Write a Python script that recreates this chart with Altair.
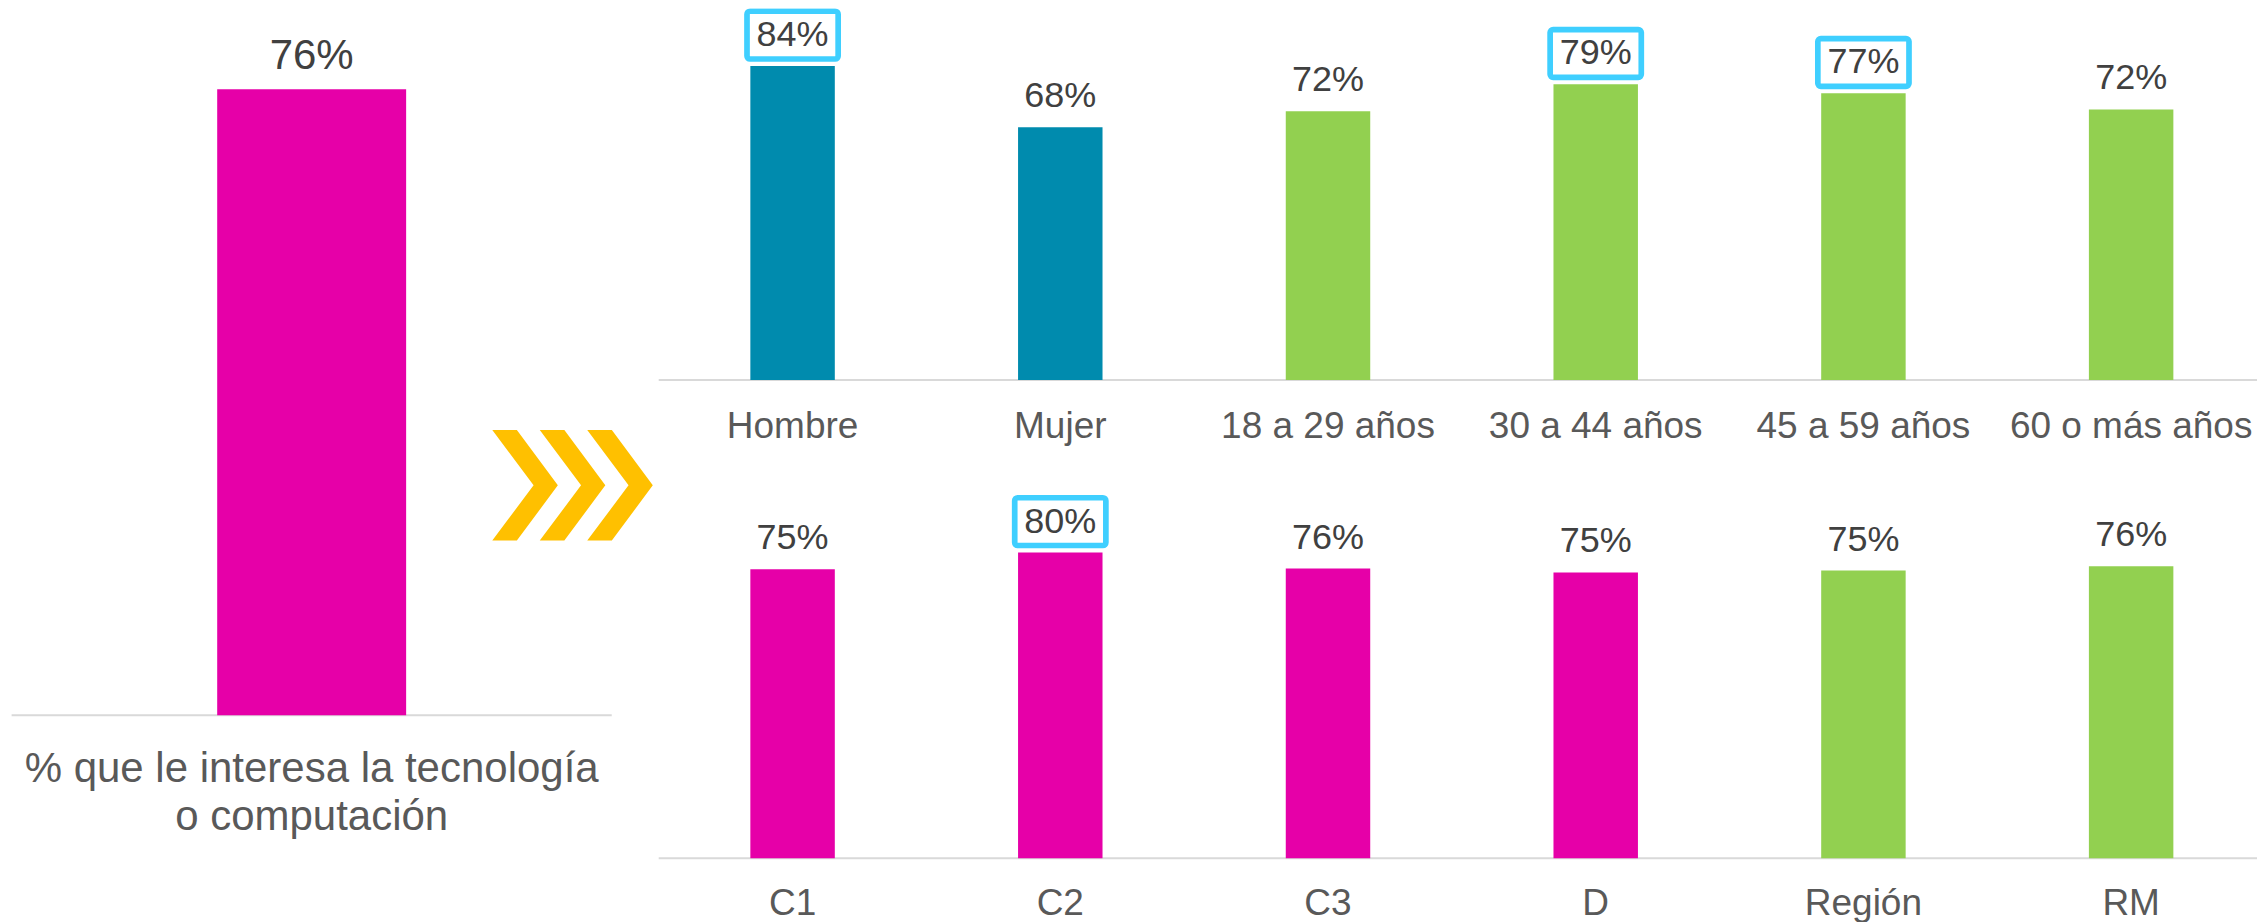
import altair as alt
import pandas as pd

# ---------------- data ----------------
total_categoria = ["% que le interesa la tecnología\no computación"]
total_valor = [76.0]
total_grupo = ["Total"]

sup_categorias = ["Hombre", "Mujer", "18 a 29 años", "30 a 44 años", "45 a 59 años", "60 o más años"]
sup_valores = [84.0, 67.6, 71.9, 79.1, 76.7, 72.4]
sup_grupos = ["Sexo", "Sexo", "Edad", "Edad", "Edad", "Edad"]
sup_destacado = [True, False, False, True, True, False]

inf_categorias = ["C1", "C2", "C3", "D", "Región", "RM"]
inf_valores = [75.4, 79.8, 75.6, 74.6, 75.1, 76.2]
inf_grupos = ["NSE", "NSE", "NSE", "NSE", "Zona", "Zona"]
inf_destacado = [False, True, False, False, False, False]

grupos = ["Total", "Sexo", "Edad", "NSE", "Zona"]
colores = ["#E600A8", "#008BAE", "#92D050", "#E600A8", "#92D050"]

FONT = "Liberation Sans"
VAL_COLOR = "#404040"
CAT_COLOR = "#595959"
BOX_COLOR = "#3FCFFF"
LINE_COLOR = "#D9D9D9"

CHEVRON_SHAPE = (
    "M-0.859,-1L-0.414,-1L0.327,0L-0.414,1L-0.859,1L-0.112,0Z "
    "M0,-1L0.445,-1L1.186,0L0.445,1L0,1L0.747,0Z "
    "M0.859,-1L1.304,-1L2.045,0L1.304,1L0.859,1L1.606,0Z"
)

color_enc = alt.Color("grupo:N", scale=alt.Scale(domain=grupos, range=colores), legend=None)


def panel(cats, vals, grps, dest, width, height, x_range, pad_in, pad_out, y_range,
          val_size, val_dy, cat_size, cat_dy, line_x, box=True, line_height=None,
          extra=None):
    df = pd.DataFrame({"categoria": cats, "valor": vals, "grupo": grps,
                       "destacado": [1 if d else 0 for d in dest]})
    base = alt.Chart(df).transform_calculate(
        etiqueta="format(datum.valor, '.0f') + '%'",
        cero="0",
        linea1="split(datum.categoria, '\\n')[0]",
        linea2="length(split(datum.categoria, '\\n')) > 1 ? split(datum.categoria, '\\n')[1] : ''",
    )
    x = alt.X("categoria:N", sort=None,
              scale=alt.Scale(range=x_range, paddingInner=pad_in, paddingOuter=pad_out),
              axis=None)
    y_scale = alt.Scale(domain=[0, 100], range=y_range, nice=False, zero=True)
    y = alt.Y("valor:Q", scale=y_scale, axis=None)
    y0 = alt.Y("cero:Q", scale=y_scale, axis=None)

    rule = alt.Chart(pd.DataFrame({"cero": [0]})).mark_rule(
        color=LINE_COLOR, strokeWidth=2
    ).encode(x=alt.value(line_x[0]), x2=alt.value(line_x[1]), y=y0)
    bars = base.mark_bar().encode(x=x, y=y, color=color_enc)
    layers = [rule, bars]
    if box:
        boxes = base.transform_filter("datum.destacado == 1").mark_bar(
            width=91.2, fill="white", stroke=BOX_COLOR, strokeWidth=5.7,
            cornerRadius=3, yOffset=-54.8, y2Offset=-7, clip=True
        ).encode(x=x, y=y, y2="valor:Q")
        layers.append(boxes)
    labels = base.mark_text(
        dy=val_dy, fontSize=val_size, font=FONT, color=VAL_COLOR,
        align="center", baseline="alphabetic"
    ).encode(x=x, y=y, text="etiqueta:N")
    layers.append(labels)
    cat1 = base.mark_text(dy=cat_dy, fontSize=cat_size, font=FONT, color=CAT_COLOR,
                          align="center", baseline="alphabetic"
                          ).encode(x=x, y=y0, text="linea1:N")
    layers.append(cat1)
    if line_height:
        cat2 = base.mark_text(dy=cat_dy + line_height, fontSize=cat_size, font=FONT,
                              color=CAT_COLOR, align="center", baseline="alphabetic"
                              ).encode(x=x, y=y0, text="linea2:N")
        layers.append(cat2)
    if extra is not None:
        layers.append(extra)
    return alt.layer(*layers).properties(width=width, height=height)


chevrones = alt.Chart(pd.DataFrame({"simbolo": ["chevron"]})).mark_point(
    shape=CHEVRON_SHAPE, size=12232, filled=True, color="#FFC000", opacity=1, strokeWidth=0
).encode(x=alt.value(532), y=alt.value(477.3))

izq = panel(total_categoria, total_valor, total_grupo, [False],
            width=643, height=907,
            x_range=[3.6, 604], pad_in=0.5211, pad_out=0.5211,
            y_range=[707.3, 707.3 - 824],
            val_size=42, val_dy=-20, cat_size=42, cat_dy=66.4,
            line_x=[3.6, 604], box=False, line_height=48, extra=chevrones)

sup = panel(sup_categorias, sup_valores, sup_grupos, sup_destacado,
            width=1607, height=440,
            x_range=[8, 1615], pad_in=0.6845, pad_out=0.3423,
            y_range=[372, -2],
            val_size=36, val_dy=-20, cat_size=37, cat_dy=58,
            line_x=[8, 1607])

inf = panel(inf_categorias, inf_valores, inf_grupos, inf_destacado,
            width=1607, height=467,
            x_range=[8, 1615], pad_in=0.6845, pad_out=0.3423,
            y_range=[410.5, 410.5 - 383.4],
            val_size=36, val_dy=-20, cat_size=37, cat_dy=56.5,
            line_x=[8, 1607])

chart = alt.hconcat(
    izq, alt.vconcat(sup, inf, spacing=0), spacing=0
).properties(
    bounds="flush", padding=0
).configure_view(stroke=None)

chart.save("out.html", embed_options={"renderer": "svg", "actions": False})
